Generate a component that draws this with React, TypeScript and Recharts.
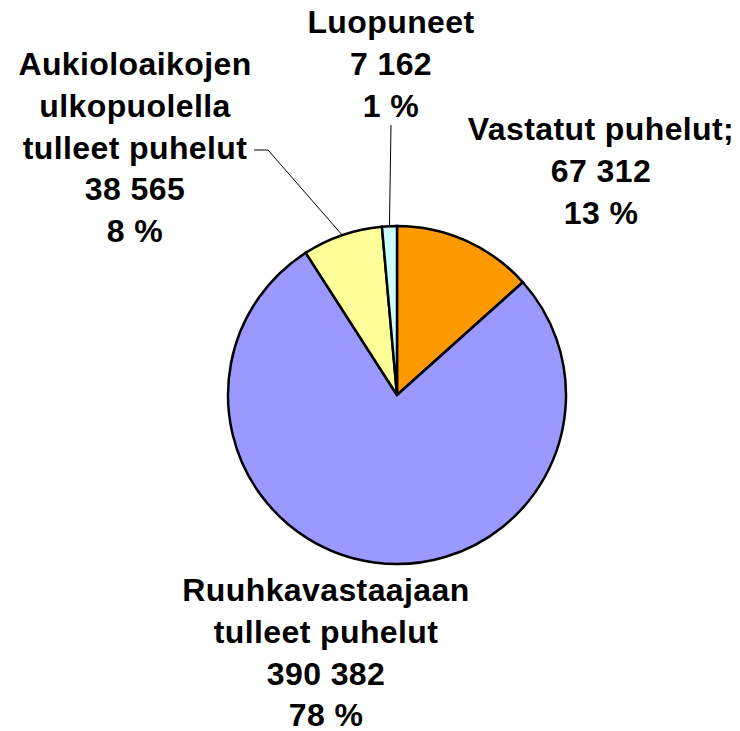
import React from 'react';
import { PieChart, Pie, Cell } from 'recharts';

// Puhelut
const categories = ['Vastatut puhelut', 'Ruuhkavastaajaan tulleet puhelut', 'Aukioloaikojen ulkopuolella tulleet puhelut', 'Luopuneet'];
const values = [67312, 390382, 38565, 7162];
const nameLines = [
  ['Vastatut puhelut;'],
  ['Ruuhkavastaajaan', 'tulleet puhelut'],
  ['Aukioloaikojen', 'ulkopuolella', 'tulleet puhelut'],
  ['Luopuneet'],
];
const COLORS = ['#FF9900', '#9999FF', '#FFFF99', '#CCFFFF'];

// label placement (center x, first baseline y) and optional leader line end
const LABEL_POS = [
  { x: 601, y: 140, line: null as number[][] | null },
  { x: 326, y: 601, line: null },
  { x: 135, y: 75, line: [[268, 150], [254, 150]] },
  { x: 391, y: 33, line: [[391, 125]] },
];
const LINE_H = 41.8;
const RAD = Math.PI / 180;

const total = values.reduce((a, b) => a + b, 0);
const fmt = (v: number) => String(v).replace(/\B(?=(\d{3})+(?!\d))/g, ' ');

const data = categories.map((name, i) => ({ name, value: values[i] }));

const renderLabel = (props: any) => {
  const { index, cx, cy, midAngle, outerRadius } = props;
  const pos = LABEL_POS[index];
  const lines = [...nameLines[index], fmt(values[index]), `${Math.round((values[index] / total) * 100)} %`];
  let leader = null;
  if (pos.line) {
    const sx = cx + outerRadius * Math.cos(-midAngle * RAD);
    const sy = cy + outerRadius * Math.sin(-midAngle * RAD);
    const pts = [[sx, sy], ...pos.line].map(p => p.join(',')).join(' ');
    leader = <polyline points={pts} fill="none" stroke="#000" strokeWidth={1} />;
  }
  return (
    <g key={`lbl-${index}`}>
      {leader}
      {lines.map((t, i) => (
        <text
          key={i}
          x={pos.x}
          y={pos.y + i * LINE_H}
          textAnchor="middle"
          fill="#000"
          style={{ fontFamily: '"Liberation Sans", Arial, sans-serif', fontWeight: 700, fontSize: 32, letterSpacing: 0.4 }}
        >
          {t}
        </text>
      ))}
    </g>
  );
};

export default function App() {
  return (
    <div style={{ position: 'absolute', left: 0, top: 0, width: 740, height: 731, background: '#fff' }}>
      <PieChart width={740} height={731} margin={{ top: 0, right: 0, bottom: 0, left: 0 }}>
        <Pie
          data={data}
          dataKey="value"
          nameKey="name"
          cx={397}
          cy={395}
          outerRadius={169}
          startAngle={90}
          endAngle={-270}
          stroke="#000"
          strokeWidth={2.5}
          label={renderLabel}
          labelLine={false}
          isAnimationActive={false}
        >
          {data.map((entry, index) => (
            <Cell key={`cell-${index}`} fill={COLORS[index]} />
          ))}
        </Pie>
      </PieChart>
    </div>
  );
}
